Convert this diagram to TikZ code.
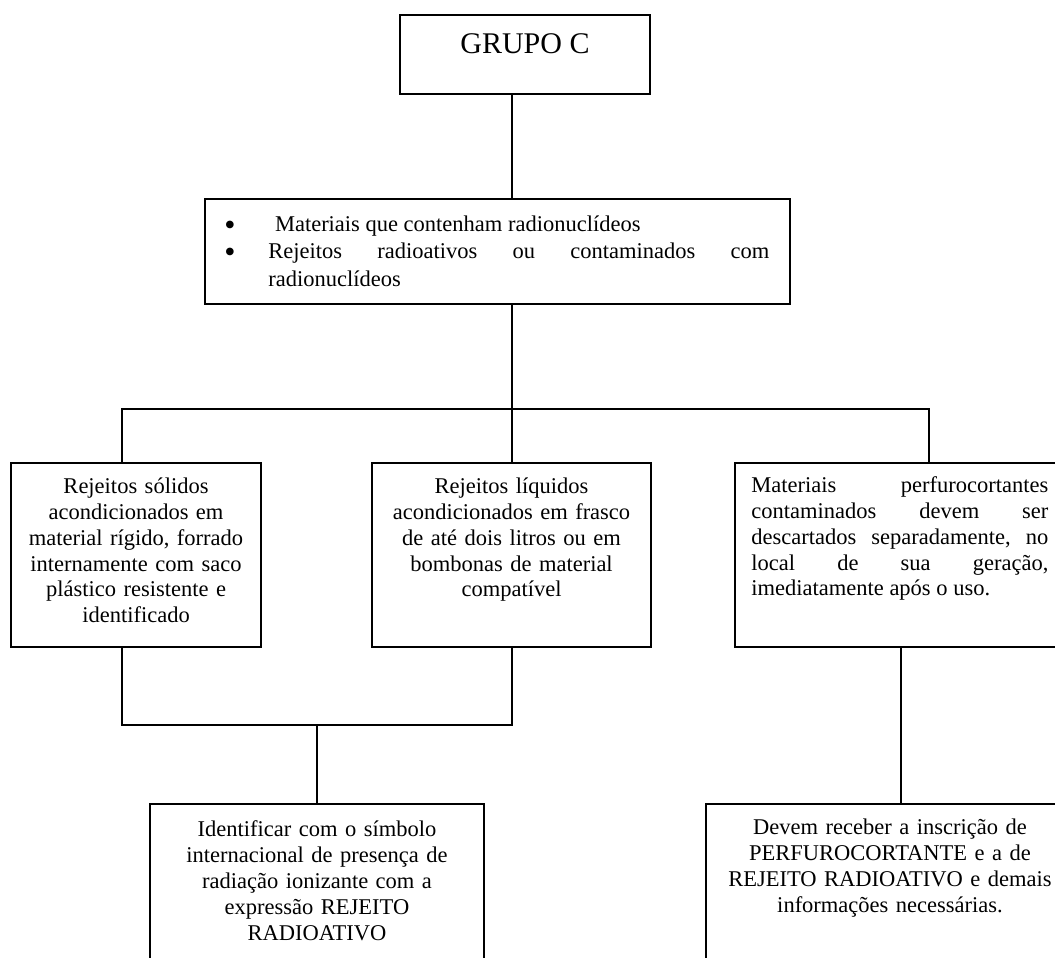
\documentclass[tikz,border=0pt]{standalone}
\usepackage{fontspec}
\setmainfont{Liberation Serif}
\usetikzlibrary{fit}
\newcommand{\bigbul}{\makebox[23.5pt][l]{\raisebox{-2pt}{\fontsize{17}{14}\selectfont\textbullet}}}
\begin{document}
\begin{tikzpicture}[x=0.5333pt,y=-0.5333pt,
  box/.style={draw, line width=0.75pt, inner sep=0pt, rectangle},
  txt/.style={inner sep=0pt, font=\fontsize{12}{13.8}\selectfont},
  conn/.style={line width=0.75pt, line join=miter}]
\useasboundingbox (0,0) rectangle (1055,957);
\clip (0,0) rectangle (1055,957);

% boxes
\node[box, fit={(400,15) (650,94)}] (g) {};
\node[box, fit={(205,199) (790,304)}] (b2) {};
\node[box, fit={(11,463) (261,647)}] (l) {};
\node[box, fit={(372,463) (651,647)}] (m) {};
\node[box, fit={(735,463) (1070,647)}] (r) {};
\node[box, fit={(150,804) (484,990)}] (bl) {};
\node[box, fit={(706,804) (1075,990)}] (br) {};

% texts
\node[anchor=base, inner sep=0pt, font=\fontsize{16}{19}\selectfont] (gt) at (525,53) {GRUPO C};

\node[txt, font=\fontsize{12}{14.6}\selectfont, anchor=north west, text width=290.6pt, align=justify] (b2t) at (224,211.8)
 {\strut\bigbul\hspace{3.5pt}Materiais que contenham radionuclídeos\\
  \bigbul Rejeitos\hfill radioativos\hfill ou\hfill contaminados\hfill com\\
  \hspace*{23.5pt}radionuclídeos};

\node[txt, anchor=north, text width=128pt, align=center] (lt) at (136,474.9)
 {\strut Rejeitos sólidos\\ acondicionados em\\ material rígido, forrado\\ internamente com saco\\ plástico resistente e\\ identificado};

\node[txt, anchor=north, text width=138.7pt, align=center] (mt) at (511.5,474.9)
 {\strut Rejeitos líquidos\\ acondicionados em frasco\\ de até dois litros ou em\\ bombonas de material\\ compatível};

\node[txt, anchor=north west, text width=158.4pt, align=justify] (rt) at (751,473.9)
 {\strut Materiais\hfill perfurocortantes\\
  contaminados\hfill devem\hfill ser\\
  descartados\hfill separadamente,\hfill no\\
  local\hfill de\hfill sua\hfill geração,\\
  imediatamente após o uso.};

\node[txt, anchor=north, text width=170.7pt, align=center] (blt) at (317,818)
 {\strut Identificar com o símbolo\\ internacional de presença de\\ radiação ionizante com a\\ expressão REJEITO\\ RADIOATIVO};

\node[txt, anchor=north, text width=186.7pt, align=center] (brt) at (890,816)
 {\strut Devem receber a inscrição de\\ PERFUROCORTANTE e a de\\ REJEITO RADIOATIVO e demais\\ informações necessárias.};

% junction coordinates
\coordinate (jt) at (512,409);
\coordinate (hl) at (122,409);
\coordinate (hr) at (929,409);
\coordinate (jl) at (122,725);
\coordinate (jm) at (512,725);
\coordinate (jb) at (317,725);
\coordinate (rx) at (901,700);

% connectors
\draw[conn] (g.south -| jt) -- (b2.north -| jt);
\draw[conn] (b2.south -| jt) -- (jt);
\draw[conn] (l.north -| hl) -- (hl) -- (hr) -- (r.north -| hr);
\draw[conn] (jt) -- (m.north -| jt);
\draw[conn] (l.south -| jl) -- (jl) -- (jm) -- (m.south -| jm);
\draw[conn] (jb) -- (bl.north -| jb);
\draw[conn] (r.south -| rx) -- (br.north -| rx);
\end{tikzpicture}
\end{document}
